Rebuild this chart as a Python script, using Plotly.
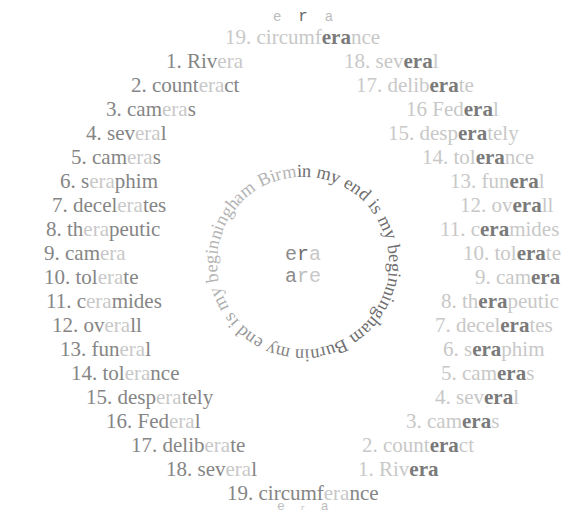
import math
import plotly.graph_objects as go

# ---------------- data ----------------
words = ["Rivera", "counteract", "cameras", "several", "cameras", "seraphim",
         "decelerates", "therapeutic", "camera", "tolerate", "ceramides",
         "overall", "funeral", "tolerance", "desperately", "Federal",
         "deliberate", "several"]
left_numbers = ["1.", "2.", "3.", "4.", "5.", "6.", "7.", "8.", "9.", "10.",
                "11.", "12.", "13.", "14.", "15.", "16.", "17.", "18."]
right_numbers = ["18.", "17.", "16", "15.", "14.", "13.", "12.", "11.", "10.",
                 "9.", "8.", "7.", "6.", "5.", "4.", "3.", "2.", "1."]
closing_number = "19."
closing_word = "circumferance"
circle_text = "in my end is my beginningham Burnin my end is my beginningham Birm"
center_words = ["era", "are"]
crown_letters = ["e", "r", "a"]

# ---------------- style ----------------
W, H = 563, 515
CX, CY = 302.5, 264.7
ROW = 24.0
EA, EB = 259.0, 240.0
SERIF = "Liberation Serif"
MONO = "Liberation Mono"
FS = 21
DARK = "#858585"
LIGHT = "#c8c8c8"
HI_DARK = "#7a7a7a"
GAP = "\u00a0\u00a0"

# Times/Liberation Serif advance widths (1/1000 em)
TW = {' ': 250, 'a': 444, 'b': 500, 'c': 444, 'd': 500, 'e': 444, 'f': 333,
      'g': 500, 'h': 500, 'i': 278, 'j': 278, 'k': 500, 'l': 278, 'm': 778,
      'n': 500, 'o': 500, 'p': 500, 'q': 500, 'r': 333, 's': 389, 't': 278,
      'u': 500, 'v': 500, 'w': 722, 'x': 500, 'y': 500, 'z': 444, 'B': 667}


def split_era(w):
    i = w.find("era")
    return w[:i], w[i:i + 3], w[i + 3:]


def left_style(num, word):
    a, b, c = split_era(word)
    return (f'<span style="color:{DARK}">{num} {a}</span>'
            f'<span style="color:{LIGHT}">{b}</span>'
            f'<span style="color:{DARK}">{c}</span>')


def right_style(num, word):
    a, b, c = split_era(word)
    return (f'<span style="color:{LIGHT}">{num} {a}</span>'
            f'<span style="color:{HI_DARK};font-weight:bold">{b}</span>'
            f'<span style="color:{LIGHT}">{c}</span>')


ann = []


def add(x, y, text, size=FS, family=SERIF, xa="center", ya="middle", angle=0, color=DARK):
    ann.append(dict(x=x, y=y, xref="x", yref="y", text=text, showarrow=False,
                    xanchor=xa, yanchor=ya, textangle=angle,
                    font=dict(family=family, size=size, color=color),
                    borderpad=0, borderwidth=0))


# list rows
for k in range(1, 19):
    y = CY + ROW * (k - 9.5)
    dy = y - CY
    half = EA * math.sqrt(max(0.0, 1 - (dy / EB) ** 2))
    add(CX - half, y, left_style(left_numbers[k - 1], words[k - 1]), xa="left")
    n = 19 - k
    add(CX + half, y, right_style(right_numbers[k - 1], words[n - 1]), xa="right")

# top and bottom closing line
add(CX, CY - ROW * 9.5, right_style(closing_number, closing_word))
add(CX, CY + ROW * 9.5, left_style(closing_number, closing_word))

# crown letters
top = (f'<span style="color:#bdbdbd">{crown_letters[0]}{GAP}</span>'
       f'<span style="color:#6a6a6a;font-size:16px">{crown_letters[1]}</span>'
       f'<span style="color:#bdbdbd">{GAP}{crown_letters[2]}</span>')
add(CX, 17, top, size=14, family=MONO)
bot = (f'<span style="color:#bdbdbd">{crown_letters[0]}{GAP}</span>'
       f'<span style="color:#bdbdbd;font-size:8px">{crown_letters[1]}</span>'
       f'<span style="color:#bdbdbd">{GAP}{crown_letters[2]}</span>')
add(CX, 506, bot, size=13, family=MONO)

# centre words
center_cols = [["#8c8c8c", "#6f6f6f", "#c8c8c8"], ["#8c8c8c", "#bdbdbd", "#c8c8c8"]]
for i, (w, cols) in enumerate(zip(center_words, center_cols)):
    t = "".join(f'<span style="color:{c}">{l}</span>' for l, c in zip(w, cols))
    add(CX, 254 + 22 * i, t, size=20, family=MONO)

# circular text
CCX, CCY = 303.0, 263.0
RB = 86.0
total = sum(TW[ch] for ch in circle_text) / 1000.0
cfs = 2 * math.pi * RB / total
rc = RB + 0.34 * cfs
start = math.radians(-4.0)
acc = 0.0
N = len(circle_text)
dark_c, light_c = 110, 180
for i, ch in enumerate(circle_text):
    w = TW[ch] / 1000.0 * cfs
    th = start + (acc + w / 2) / RB
    acc += w
    if ch == ' ':
        continue
    f = i / N
    if f < 0.45:
        g = dark_c
    elif f > 0.72:
        g = light_c
    else:
        g = int(dark_c + (light_c - dark_c) * (f - 0.45) / 0.27)
    col = f"rgb({g},{g},{g})"
    add(CCX + rc * math.sin(th), CCY - rc * math.cos(th), ch, size=cfs,
        angle=math.degrees(th), color=col)

fig = go.Figure()
fig.update_layout(
    width=W, height=H, margin=dict(l=0, r=0, t=0, b=0),
    paper_bgcolor="white", plot_bgcolor="white",
    xaxis=dict(range=[0, W], visible=False, fixedrange=True),
    yaxis=dict(range=[H, 0], visible=False, fixedrange=True),
    annotations=ann, showlegend=False,
)
fig.write_html(
    "out.html",
    config={"displayModeBar": False},
    post_script="document.body.style.margin='0';document.body.style.overflow='hidden';",
)
